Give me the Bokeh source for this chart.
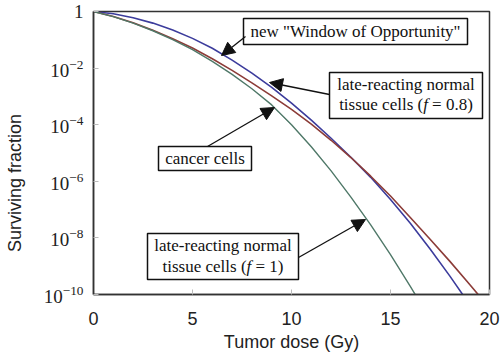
import math
from bokeh.plotting import figure
from bokeh.models import (Range1d, FixedTicker, LogTickFormatter, Label, Arrow,
                          NormalHead)
from bokeh.embed import file_html
from bokeh.resources import INLINE

# ---- data ----
dose_blue = [0, 1, 2, 3, 4, 5, 6, 7, 8, 9, 10, 11, 12, 13, 14, 15, 16, 17, 18, 19]
log_sf_blue = [0, -0.08, -0.22, -0.41, -0.65, -0.95, -1.30, -1.72, -2.18, -2.68,
               -3.24, -3.84, -4.48, -5.15, -5.86, -6.64, -7.48, -8.39, -9.35, -10.36]

dose_brown = [0, 1, 2, 3, 4, 5, 6, 7, 8, 9, 10, 11, 12, 13, 14, 15, 16, 17, 18, 19, 20]
log_sf_brown = [0, -0.18, -0.40, -0.66, -0.96, -1.29, -1.67, -2.08, -2.52, -2.98,
                -3.46, -3.98, -4.55, -5.16, -5.82, -6.52, -7.28, -8.05, -8.83, -9.65, -10.47]

dose_green = [0, 1, 2, 3, 4, 5, 6, 7, 8, 9, 10, 11, 12, 13, 14, 15, 16, 17]
log_sf_green = [0, -0.18, -0.41, -0.68, -0.99, -1.35, -1.76, -2.22, -2.73, -3.30,
                -4.00, -4.78, -5.63, -6.56, -7.54, -8.59, -9.71, -10.88]

x_ticks = [0, 5, 10, 15, 20]
y_tick_exponents = [-10, -8, -6, -4, -2, 0]

sf_blue = [10 ** v for v in log_sf_blue]
sf_brown = [10 ** v for v in log_sf_brown]
sf_green = [10 ** v for v in log_sf_green]
y_ticks = [10.0 ** e for e in y_tick_exponents]

# ---- layout ----
W, H = 500, 356
L, R, T, B = 93, 489, 11, 294

p = figure(width=W, height=H, output_backend="svg", toolbar_location=None,
           x_range=Range1d(0, 20), y_range=Range1d(1e-10, 1), y_axis_type="log",
           min_border_left=L, min_border_right=W - R, min_border_top=T,
           min_border_bottom=H - B)
p.background_fill_color = "white"
p.border_fill_color = "white"
p.xgrid.visible = False
p.ygrid.visible = False
p.outline_line_color = "#333333"
p.outline_line_width = 1.5


def px_x(px):
    return (px - L) / (R - L) * 20


def px_y(py):
    return 10 ** (-(py - T) / (B - T) * 10)


# curves
p.line(dose_blue, sf_blue, line_color="#3c3c9c", line_width=1.6)
p.line(dose_brown, sf_brown, line_color="#8c3c38", line_width=1.6)
p.line(dose_green, sf_green, line_color="#4f7868", line_width=1.4)

# axes
for ax in (p.xaxis[0], p.yaxis[0]):
    ax.axis_line_color = "#333333"
    ax.axis_line_width = 1.5
    ax.major_tick_in = 5
    ax.major_tick_out = 0
    ax.major_tick_line_color = "#bbbbbb"
    ax.minor_tick_line_color = None

p.xaxis.ticker = FixedTicker(ticks=x_ticks)
p.xaxis.major_label_text_font = "Liberation Sans"
p.xaxis.major_label_text_font_size = "18px"
p.xaxis.major_label_text_color = "#222222"
p.xaxis.major_label_standoff = 17
p.xaxis.axis_label = "Tumor dose (Gy)"
p.xaxis.axis_label_text_font = "Liberation Sans"
p.xaxis.axis_label_text_font_size = "18px"
p.xaxis.axis_label_text_font_style = "normal"
p.xaxis.axis_label_text_color = "#222222"
p.xaxis.axis_label_standoff = 4

p.yaxis.ticker = FixedTicker(ticks=y_ticks)
p.yaxis.formatter = LogTickFormatter(min_exponent=1)
p.yaxis.major_label_text_font = "Liberation Serif"
p.yaxis.major_label_text_font_size = "19px"
p.yaxis.major_label_text_color = "#222222"
p.yaxis.major_label_standoff = 10

# y axis title; trailing no-break spaces push it below centre as in the original
p.yaxis.axis_label = "Surviving fraction" + "\u00a0" * 12
p.yaxis.axis_label_text_font = "Liberation Sans"
p.yaxis.axis_label_text_font_size = "18px"
p.yaxis.axis_label_text_font_style = "normal"
p.yaxis.axis_label_text_color = "#222222"
p.yaxis.axis_label_standoff = 16


# ---- annotation boxes ----
def box(x0, x1, y0, y1):
    p.quad(left=[px_x(x0)], right=[px_x(x1)], top=[px_y(y0)], bottom=[px_y(y1)],
           fill_color="white", line_color="#111111", line_width=1.5)


def txt(px, py, s, style="normal", align="center"):
    p.add_layout(Label(x=px_x(px), y=px_y(py), text=s, text_align=align,
                       text_baseline="middle", text_font="Liberation Serif",
                       text_font_size="17px", text_font_style=style,
                       text_color="#111111"))


def arrow(x0, y0, x1, y1):
    p.add_layout(Arrow(end=NormalHead(size=13, fill_color="#111111",
                                      line_color="#111111", line_width=1),
                       x_start=px_x(x0), y_start=px_y(y0),
                       x_end=px_x(x1), y_end=px_y(y1),
                       line_color="#111111", line_width=1.3))


NB = "\u00a0"

# Window of opportunity
box(243, 467, 18, 44)
txt(355, 31, 'new "Window of Opportunity"')
arrow(245, 36, 221, 55)

# late-reacting f = 0.8
box(329, 482, 72, 118)
txt(405.5, 84, "late-reacting normal")
x_start = 405.5 - 133.7 / 2
txt(x_start, 104, "tissue cells (", align="left")
txt(x_start + 84.0, 104, "f", style="italic", align="left")
txt(x_start + 88.7, 104, NB + "=" + NB + "0.8)", align="left")
arrow(329, 94, 269, 82)

# cancer cells
box(158, 251, 146, 170)
txt(204.5, 158, "cancer cells")
arrow(207, 146, 274, 107)

# late-reacting f = 1
box(147, 298, 233, 279)
txt(222.5, 245, "late-reacting normal")
x_start2 = 222.5 - 120.9 / 2
txt(x_start2, 266, "tissue cells (", align="left")
txt(x_start2 + 84.0, 266, "f", style="italic", align="left")
txt(x_start2 + 88.7, 266, NB + "=" + NB + "1)", align="left")
arrow(298, 257, 365, 219)

open("out.html", "w").write(file_html(p, INLINE))
